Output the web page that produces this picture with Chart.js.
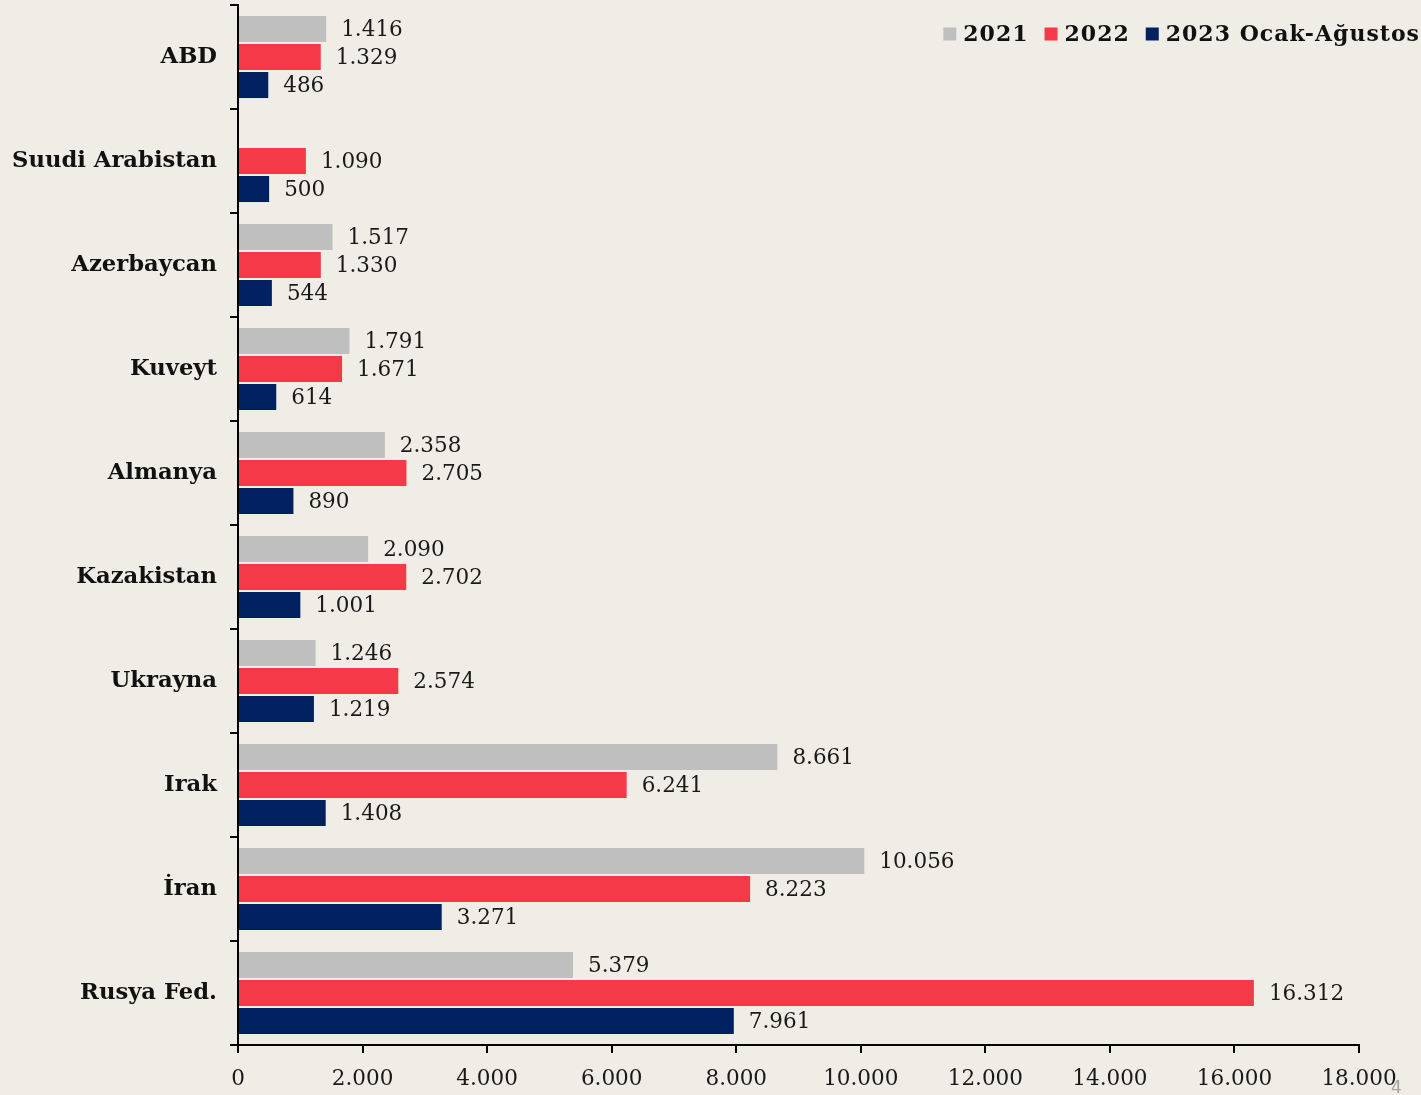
<!DOCTYPE html>
<html lang="tr">
<head>
<meta charset="utf-8">
<title>Ülkelere göre değerler</title>
<script src="https://cdn.jsdelivr.net/npm/chart.js@4.4.1/dist/chart.umd.min.js"></script>
<style>
  html, body { margin: 0; padding: 0; background: #F0EDE7; }
  #wrap { width: 1421px; height: 1095px; position: relative; }
</style>
</head>
<body>
<div id="wrap"><canvas id="c" width="1421" height="1095"></canvas></div>
<script>
// Categories, top to bottom
const categories = ['ABD', 'Suudi Arabistan', 'Azerbaycan', 'Kuveyt', 'Almanya',
                    'Kazakistan', 'Ukrayna', 'Irak', 'İran', 'Rusya Fed.'];

// Series values (null = no value for that year)
const values2021 = [1416, null, 1517, 1791, 2358, 2090, 1246, 8661, 10056, 5379];
const values2022 = [1329, 1090, 1330, 1671, 2705, 2702, 2574, 6241, 8223, 16312];
const values2023 = [486, 500, 544, 614, 890, 1001, 1219, 1408, 3271, 7961];

const seriesLabels = ['2021', '2022', '2023 Ocak-Ağustos'];
const seriesColors = ['#BFBFBF', '#F43A48', '#00205F'];

// X axis range
const xMin = 0, xMax = 18000, xStep = 2000;

const FONT = "'DejaVu Serif', 'Liberation Serif', serif";
const INK = '#1A1A1A';

function fmt(v) {
  return String(Math.round(v)).replace(/\B(?=(\d{3})+(?!\d))/g, '.');
}

// Value labels at the end of each bar
const valueLabels = {
  id: 'valueLabels',
  afterDatasetsDraw(chart) {
    const ctx = chart.ctx;
    ctx.save();
    ctx.font = '21.5px ' + FONT;
    ctx.fillStyle = INK;
    ctx.textAlign = 'left';
    ctx.textBaseline = 'middle';
    chart.data.datasets.forEach((ds, di) => {
      const meta = chart.getDatasetMeta(di);
      meta.data.forEach((bar, i) => {
        const v = ds.data[i];
        if (v === null || v === undefined) return;
        ctx.fillText(fmt(v), bar.x + 15, bar.y + 1.5);
      });
    });
    ctx.restore();
  }
};

// Legend in the top-right corner, right-aligned
const cornerLegend = {
  id: 'cornerLegend',
  afterDraw(chart) {
    const ctx = chart.ctx;
    ctx.save();
    ctx.font = 'bold 22px ' + FONT;
    ctx.letterSpacing = '1px';
    ctx.textBaseline = 'middle';
    ctx.textAlign = 'left';
    const box = 13, boxGap = 7, itemGap = 16, yc = 34;
    const widths = seriesLabels.map(t => ctx.measureText(t).width);
    let total = 0;
    widths.forEach((w, i) => { total += box + boxGap + w + (i < widths.length - 1 ? itemGap : 0); });
    let x = 1420 - total;
    seriesLabels.forEach((t, i) => {
      ctx.fillStyle = seriesColors[i];
      ctx.fillRect(x, yc - box / 2, box, box);
      x += box + boxGap;
      ctx.fillStyle = '#111';
      ctx.fillText(t, x, yc + 1);
      x += widths[i] + itemGap;
    });
    // page number
    ctx.letterSpacing = '0px';
    ctx.font = '17px "DejaVu Sans", sans-serif';
    ctx.fillStyle = '#A6A6A6';
    ctx.textBaseline = 'top';
    ctx.fillText('4', 1391, 1080);
    ctx.restore();
  }
};

const bg = {
  id: 'bg',
  beforeDraw(chart) {
    const ctx = chart.ctx;
    ctx.save();
    ctx.fillStyle = '#F0EDE7';
    ctx.fillRect(0, 0, chart.width, chart.height);
    ctx.restore();
  }
};

new Chart(document.getElementById('c'), {
  type: 'bar',
  data: {
    labels: categories,
    datasets: [values2021, values2022, values2023].map((d, i) => ({
      label: seriesLabels[i],
      data: d,
      backgroundColor: seriesColors[i],
      borderWidth: 0,
      categoryPercentage: 0.808,
      barPercentage: 0.93
    }))
  },
  options: {
    indexAxis: 'y',
    responsive: false,
    animation: false,
    devicePixelRatio: 1,
    layout: { padding: { top: 5, right: 62, left: 0, bottom: 0 } },
    plugins: {
      legend: { display: false },
      tooltip: { enabled: false }
    },
    scales: {
      x: {
        min: xMin,
        max: xMax,
        ticks: {
          stepSize: xStep,
          callback: v => fmt(v),
          font: { family: FONT, size: 21.5 },
          color: INK,
          padding: 14,
          maxRotation: 0
        },
        grid: {
          drawOnChartArea: false,
          drawTicks: true,
          tickLength: 8,
          color: '#000',
          lineWidth: 2
        },
        border: { display: true, color: '#000', width: 2 },
        afterFit(scale) { scale.height = 50; }
      },
      y: {
        ticks: {
          font: { family: FONT, size: 22.7, weight: 'bold' },
          color: '#111',
          padding: 13
        },
        grid: {
          offset: true,
          drawOnChartArea: false,
          drawTicks: true,
          tickLength: 8,
          color: '#000',
          lineWidth: 2
        },
        border: { display: true, color: '#000', width: 2 },
        afterFit(scale) {
          scale.width = 238;
          scale.paddingTop = 0;
          scale.paddingBottom = 0;
        }
      }
    }
  },
  plugins: [bg, valueLabels, cornerLegend]
});
</script>
</body>
</html>
